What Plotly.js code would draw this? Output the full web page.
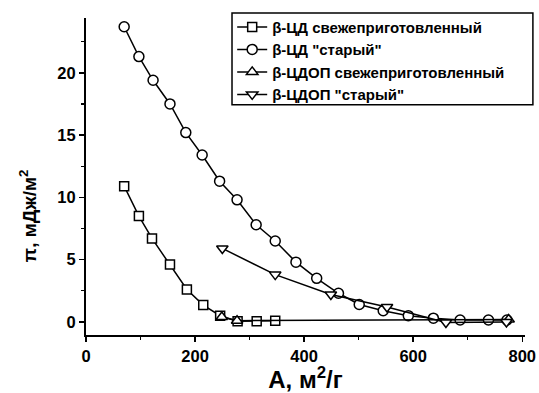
<!DOCTYPE html>
<html><head><meta charset="utf-8">
<script src="https://cdn.plot.ly/plotly-3.0.1.min.js"></script>
<style>html,body{margin:0;padding:0;background:#fff}</style>
</head><body>
<div id="chart" style="width:539px;height:393px"></div>
<script>
const seriesNames = ['β-ЦД свежеприготовленный', 'β-ЦД "старый"', 'β-ЦДОП свежеприготовленный', 'β-ЦДОП "старый"'];
const cdFreshX = [70, 97, 121, 154, 185, 215, 246, 278, 313, 347];
const cdFreshY = [10.9, 8.5, 6.7, 4.6, 2.6, 1.35, 0.5, 0.05, 0.05, 0.1];
const cdOldX = [70, 97, 123, 154, 183, 213, 245, 277, 312, 347, 385, 423, 463, 501, 545, 591, 637, 686, 738, 772];
const cdOldY = [23.7, 21.3, 19.4, 17.5, 15.2, 13.4, 11.3, 9.8, 7.8, 6.5, 4.8, 3.5, 2.3, 1.4, 0.9, 0.5, 0.3, 0.15, 0.15, 0.15];
const cdopFreshX = [249, 277, 775];
const cdopFreshY = [0.4, 0.1, 0.2];
const cdopOldX = [250, 347, 449, 552, 660, 771];
const cdopOldY = [5.9, 3.8, 2.2, 1.2, -0.05, 0.0];
const xTicks = [0, 200, 400, 600, 800];
const yTicks = [0, 5, 10, 15, 20];

const F = 'Liberation Sans, Arial, sans-serif';
function tr(x, y, name, sym, size) {
  return {x: x, y: y, name: name, type: 'scatter', mode: 'lines+markers',
    line: {color: '#000', width: 1.5},
    marker: {symbol: sym, size: size, color: '#fff', line: {color: '#000', width: 1.5}}};
}
const data = [
  tr(cdFreshX, cdFreshY, seriesNames[0], 'square', 9),
  tr(cdOldX, cdOldY, seriesNames[1], 'circle', 10),
  tr(cdopFreshX, cdopFreshY, seriesNames[2], 'triangle-up', 10),
  tr(cdopOldX, cdopOldY, seriesNames[3], 'triangle-down', 10)
];
const layout = {
  width: 539, height: 393,
  margin: {l: 86, r: 14, t: 17, b: 58},
  paper_bgcolor: '#fff', plot_bgcolor: '#fff',
  font: {family: F, color: '#000', size: 14, weight: 'bold'},
  showlegend: true,
  legend: {x: 0.333, y: 1.02, xanchor: 'left', yanchor: 'top',
    borderwidth: 0, bgcolor: 'rgba(0,0,0,0)',
    font: {family: F, size: 15, weight: 'bold', color: '#000'},
    itemwidth: 30, tracegroupgap: 0},
  shapes: [{type: 'rect', xref: 'paper', yref: 'paper', x0: 0.3326, x1: 1.018, y0: 0.726, y1: 1.016,
    line: {color: '#000', width: 1.5}, fillcolor: 'rgba(0,0,0,0)', layer: 'above'}],
  xaxis: {range: [0, 805], tickvals: xTicks, ticktext: xTicks.map(String),
    showline: true, linecolor: '#000', linewidth: 2, ticks: 'outside', ticklen: 5, tickwidth: 1.5, tickcolor: '#000',
    minor: {dtick: 100, tick0: 0, ticks: 'outside', ticklen: 3, tickwidth: 1.2, tickcolor: '#000'},
    showgrid: false, zeroline: false,
    tickfont: {family: F, size: 16.5, weight: 'bold'},
    title: {text: 'A, м<sup>2</sup>/г', font: {family: F, size: 24, weight: 'bold'}, standoff: 6}},
  yaxis: {range: [-1.05, 24.4], tickvals: yTicks, ticktext: yTicks.map(String),
    showline: true, linecolor: '#000', linewidth: 2, ticks: 'outside', ticklen: 5, tickwidth: 1.5, tickcolor: '#000',
    minor: {dtick: 2.5, tick0: 0, ticks: 'outside', ticklen: 3, tickwidth: 1.2, tickcolor: '#000'},
    showgrid: false, zeroline: false,
    tickfont: {family: F, size: 16.5, weight: 'bold'}},
  annotations: [{text: 'π, мДж/м<sup>2</sup>', xref: 'paper', yref: 'paper', x: -0.13, y: 0.377,
    xanchor: 'center', yanchor: 'middle', textangle: -90, showarrow: false,
    font: {family: F, size: 19, weight: 'bold', color: '#000'}}]
};
Plotly.newPlot('chart', data, layout, {displayModeBar: false, staticPlot: true});
</script>
</body></html>
